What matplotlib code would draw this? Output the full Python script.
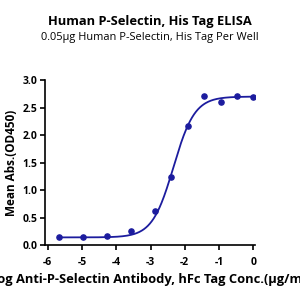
import numpy as np
import matplotlib
matplotlib.use('Agg')
import matplotlib.pyplot as plt

plt.rcParams['font.family'] = ['Open Sans', 'DejaVu Sans']

# data
log_conc = [-5.68, -4.97, -4.27, -3.56, -2.88, -2.40, -1.92, -1.43, -0.95, -0.48, 0.0]
od450 = [0.15, 0.15, 0.16, 0.25, 0.62, 1.24, 2.16, 2.71, 2.61, 2.71, 2.69]

# 4PL fit parameters (bottom, top, logEC50, hill)
fit_bottom, fit_top, fit_logec50, fit_hill = 0.14, 2.70, -2.33, 1.4

x_ticks = [-6, -5, -4, -3, -2, -1, 0]
y_ticks = [0.0, 0.5, 1.0, 1.5, 2.0, 2.5, 3.0]

COLOR = '#1c1c9e'

fig = plt.figure(figsize=(3, 3), dpi=100)
ax = fig.add_axes([0.15, 0.183, 0.70, 0.55])

xs = np.linspace(min(log_conc), max(log_conc), 300)
ys = fit_bottom + (fit_top - fit_bottom) / (1 + 10 ** ((fit_logec50 - xs) * fit_hill))
ax.plot(xs, ys, color=COLOR, lw=1.3)
ax.scatter(log_conc, od450, color=COLOR, s=14, zorder=3)

ax.set_xlim(-6.08, 0.05)
ax.set_ylim(0, 3.0)
ax.set_xticks(x_ticks)
ax.set_yticks(y_ticks)
ax.set_xticklabels([str(t) for t in x_ticks], fontsize=7.5, fontweight='bold')
ax.set_yticklabels([f"{t:.1f}" for t in y_ticks], fontsize=7.5, fontweight='bold')
for s in ('top', 'right'):
    ax.spines[s].set_visible(False)
for s in ('left', 'bottom'):
    ax.spines[s].set_linewidth(1.2)
ax.tick_params(width=1.2, length=3.5, direction='out')
ax.tick_params(axis='x', pad=5)
ax.tick_params(axis='y', pad=2)

ax.set_ylabel("Mean Abs.(OD450)", fontsize=8.5, fontweight='bold', labelpad=3)
ax.set_xlabel("Log Anti-P-Selectin Antibody, hFc Tag Conc.(\u03bcg/ml)",
              fontsize=9.3, fontweight='bold', labelpad=4)

fig.text(0.5, 0.928, "Human P-Selectin, His Tag ELISA", ha='center', va='center',
         fontsize=9.3, fontweight='bold')
fig.text(0.5, 0.874, "0.05\u03bcg Human P-Selectin, His Tag Per Well", ha='center',
         va='center', fontsize=7.9)

fig.savefig('out.png', dpi=100)
